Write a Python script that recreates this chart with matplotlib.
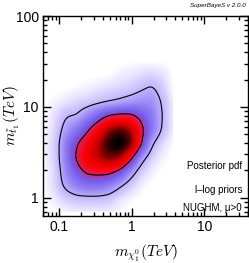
import numpy as np
import matplotlib
matplotlib.use("Agg")
import matplotlib.pyplot as plt
from matplotlib.colors import LinearSegmentedColormap
from matplotlib.ticker import LogLocator, NullFormatter, FixedLocator, FixedFormatter

# ---- data: relative posterior density ----
# grid nodes in log10(m_chi / TeV) and log10(m_stop / TeV)
log_m_chi = [-1.19, -1.04, -0.90, -0.75, -0.61, -0.46, -0.32, -0.17, -0.02, 0.12, 0.27, 0.41, 0.56]
log_m_stop = [-0.15, 0.0, 0.15, 0.30, 0.45, 0.60, 0.75, 0.90, 1.05, 1.20, 1.35, 1.50]
density = [
    [0, 0, 0.005, 0.01, 0.01, 0.01, 0.01, 0.005, 0, 0, 0, 0, 0],
    [0, 0.02, 0.05, 0.07, 0.07, 0.07, 0.06, 0.02, 0.005, 0, 0, 0, 0],
    [0, 0.04, 0.13, 0.20, 0.24, 0.24, 0.20, 0.12, 0.05, 0.01, 0, 0, 0],
    [0, 0.04, 0.17, 0.32, 0.43, 0.45, 0.45, 0.35, 0.16, 0.05, 0.01, 0, 0],
    [0.005, 0.05, 0.20, 0.42, 0.58, 0.70, 0.80, 0.75, 0.45, 0.15, 0.04, 0.01, 0],
    [0.005, 0.05, 0.20, 0.37, 0.50, 0.70, 0.90, 1.00, 0.85, 0.42, 0.11, 0.03, 0],
    [0, 0.04, 0.14, 0.22, 0.35, 0.52, 0.75, 0.85, 0.75, 0.45, 0.22, 0.09, 0.01],
    [0, 0.03, 0.09, 0.10, 0.18, 0.28, 0.38, 0.42, 0.42, 0.33, 0.22, 0.10, 0.01],
    [0, 0.01, 0.02, 0.04, 0.05, 0.07, 0.09, 0.11, 0.14, 0.16, 0.17, 0.09, 0.01],
    [0, 0, 0, 0.005, 0.01, 0.02, 0.03, 0.04, 0.05, 0.08, 0.11, 0.06, 0],
    [0, 0, 0, 0, 0, 0, 0, 0.01, 0.02, 0.03, 0.04, 0.03, 0],
    [0, 0, 0, 0, 0, 0, 0, 0, 0, 0, 0, 0, 0],
]
contour_levels = [0.10, 0.40]   # 95% and 68% credible contours (relative density)
x_ticks = [0.1, 1, 10]
x_ticklabels = ["0.1", "1", "10"]
y_ticks = [1, 10, 100]
y_ticklabels = ["1", "10", "100"]
legend_lines = ["Posterior pdf", "l\u2013log priors", "NUGHM, \u03bc>0"]

# ---- upsample + smooth the grid ----
gx = np.array(log_m_chi)
gy = np.array(log_m_stop)
D = np.array(density, dtype=float)
fx = np.linspace(gx[0], gx[-1], 300)
fy = np.linspace(gy[0], gy[-1], 300)
tmp = np.array([np.interp(fx, gx, row) for row in D])
fine = np.array([np.interp(fy, gy, tmp[:, j]) for j in range(tmp.shape[1])]).T

def smooth(a, sigma_cells, axis):
    n = int(3 * sigma_cells)
    k = np.exp(-0.5 * (np.arange(-n, n + 1) / sigma_cells) ** 2)
    k /= k.sum()
    pad = [(0, 0), (0, 0)]
    pad[axis] = (n, n)
    ap = np.pad(a, pad, mode="edge")
    return np.apply_along_axis(lambda r: np.convolve(r, k, mode="valid"), axis, ap)

sx = 0.035 / (fx[1] - fx[0])
sy = 0.035 / (fy[1] - fy[0])
fine = smooth(smooth(fine, sx, 1), sy, 0)
fine = np.clip(fine, 0, None)
fine /= fine.max()
X, Y = np.meshgrid(10 ** fx, 10 ** fy)

cmap = LinearSegmentedColormap.from_list("sb", [
    (0.00, (1.0, 1.0, 1.0)),
    (0.01, (0.95, 0.94, 1.0)),
    (0.05, (0.84, 0.80, 1.0)),
    (0.10, (0.74, 0.70, 0.99)),
    (0.20, (0.58, 0.50, 0.96)),
    (0.31, (0.46, 0.37, 0.93)),
    (0.37, (0.62, 0.28, 0.75)),
    (0.43, (0.92, 0.10, 0.30)),
    (0.55, (1.0, 0.0, 0.0)),
    (0.72, (0.80, 0.0, 0.0)),
    (0.88, (0.30, 0.0, 0.0)),
    (1.00, (0.0, 0.0, 0.0)),
])

# ---- figure ----
plt.rcParams["font.family"] = ["Liberation Sans", "DejaVu Sans"]
plt.rcParams["mathtext.fontset"] = "cm"
fig = plt.figure(figsize=(2.49, 2.63), dpi=100)
ax = fig.add_axes([43 / 249, 1 - 216 / 263, 205 / 249, 200 / 263])
ax.set_xscale("log")
ax.set_yscale("log")
ax.pcolormesh(X, Y, fine, cmap=cmap, vmin=0, vmax=1, shading="gouraud", rasterized=True)
ax.contour(X, Y, fine, levels=contour_levels, colors="black", linewidths=0.8)
ax.set_xlim(0.06, 40)
ax.set_ylim(0.63, 100)

ax.xaxis.set_major_locator(FixedLocator(x_ticks))
ax.xaxis.set_major_formatter(FixedFormatter(x_ticklabels))
ax.yaxis.set_major_locator(FixedLocator(y_ticks))
ax.yaxis.set_major_formatter(FixedFormatter(y_ticklabels))
ax.xaxis.set_minor_locator(LogLocator(base=10, subs=np.arange(2, 10), numticks=20))
ax.yaxis.set_minor_locator(LogLocator(base=10, subs=np.arange(2, 10), numticks=20))
ax.xaxis.set_minor_formatter(NullFormatter())
ax.yaxis.set_minor_formatter(NullFormatter())
ax.tick_params(which="both", direction="in", top=True, right=True, labelsize=10, width=1, pad=3)
ax.tick_params(which="major", length=6)
ax.tick_params(which="minor", length=3)
for s in ax.spines.values():
    s.set_linewidth(1.0)

ax.set_xlabel(r"$m_{\chi^0_1}(TeV)$", fontsize=11)
ax.set_ylabel(r"$m_{\tilde{t}_1}(TeV)$", fontsize=11)
ax.xaxis.set_label_coords((146 - 43) / 205, (216 - 253) / 200)
ax.yaxis.set_label_coords((12 - 43) / 205, (216 - 116) / 200)
ax.xaxis.label.set_va("center")
ax.yaxis.label.set_va("center")

ys = [166, 190, 208]
for t, yp in zip(legend_lines, ys):
    fig.text(242 / 249, 1 - yp / 263, t, ha="right", va="center", fontsize=7)
fig.text(246 / 249, 1 - 5 / 263, "SuperBayeS v 2.0.0", ha="right", va="center",
         fontsize=4.5, style="italic")

fig.savefig("out.png", dpi=100)
